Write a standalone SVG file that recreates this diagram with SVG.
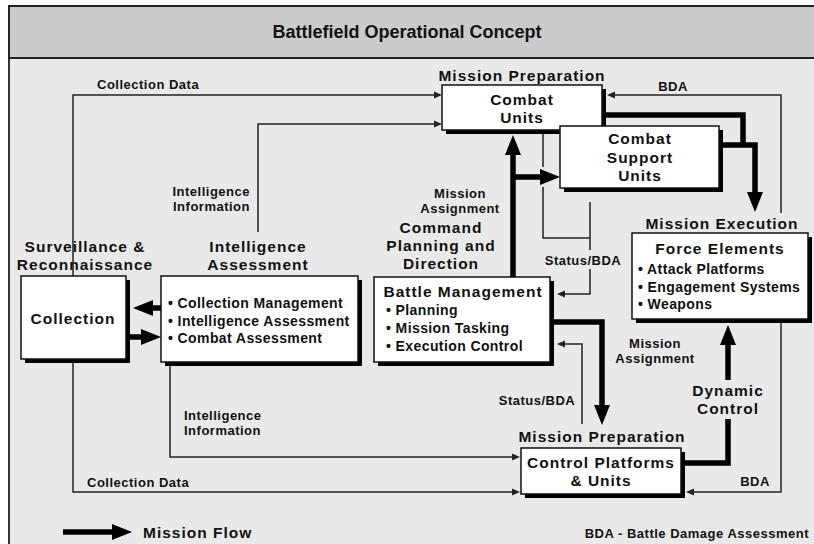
<svg xmlns="http://www.w3.org/2000/svg" width="814" height="544" viewBox="0 0 814 544">
<style>
text{font-family:"Liberation Sans",Arial,Helvetica,sans-serif;font-weight:bold;fill:#111}
.t{font-size:18px;text-anchor:middle}
.h{font-size:15.5px;letter-spacing:1px;text-anchor:middle}
.b{font-size:14px;letter-spacing:0.4px}
.s{font-size:13px;letter-spacing:0.5px}
.m{text-anchor:middle}
.e{text-anchor:end}
.box{fill:#fff;stroke:#111;stroke-width:1.5}
.sh{fill:#000}
.thin{fill:none;stroke:#222;stroke-width:1.5}
.thick{fill:none;stroke:#000;stroke-width:5.5;stroke-linejoin:miter}
</style>
<defs>
<marker id="big" markerUnits="userSpaceOnUse" markerWidth="20" markerHeight="16" refX="0" refY="8" orient="auto" overflow="visible"><path d="M0,0 L20,8 L0,16 z" fill="#000"/></marker>
<marker id="small" markerUnits="userSpaceOnUse" markerWidth="8" markerHeight="7" refX="0" refY="3.5" orient="auto" overflow="visible"><path d="M0,0 L8,3.5 L0,7 z" fill="#222"/></marker>
</defs>
<g id="frame">
<rect x="9" y="6" width="820" height="560" fill="#e9e9e9" stroke="#333" stroke-width="2"/>
<rect x="9" y="6" width="820" height="52" fill="#cbcbcb" stroke="#222" stroke-width="2"/>
<text class="t" x="407" y="38">Battlefield Operational Concept</text>
</g>
<g id="connectors">
<path class="thin" d="M73,276 V95 H434" marker-end="url(#small)"/>
<path class="thin" d="M258,232 V124 H434" marker-end="url(#small)"/>
<path class="thin" d="M781,213 V95 H615" marker-end="url(#small)"/>
<path class="thin" d="M543,134 V167 M543,187 V238 H590"/>
<path class="thin" d="M590,202 V250"/>
<path class="thin" d="M590,269 V294 H565" marker-end="url(#small)"/>
<path class="thin" d="M582,424 V344 H565" marker-end="url(#small)"/>
<path class="thin" d="M73,363 V492 H512" marker-end="url(#small)"/>
<path class="thin" d="M170,366 V457 H512" marker-end="url(#small)"/>
<path class="thin" d="M781,323 V492 H694" marker-end="url(#small)"/>
<path class="thick" d="M513,277 V155" marker-end="url(#big)"/>
<path class="thick" d="M513,177 H540" marker-end="url(#big)"/>
<path class="thick" d="M602,115 H743 V147"/>
<path class="thick" d="M719,145 H755 V192" marker-end="url(#big)"/>
<path class="thick" d="M161,308 H153" marker-end="url(#big)"/>
<path class="thick" d="M130,337 H141" marker-end="url(#big)"/>
<path class="thick" d="M550,322 H602 V405" marker-end="url(#big)"/>
<path class="thick" d="M681,463 H728 V419"/>
<path class="thick" d="M728,380 V345" marker-end="url(#big)"/>
<path class="thick" d="M63,532 H112" marker-end="url(#big)"/>
<text class="s" x="97" y="89">Collection Data</text>
<text class="s e" x="250" y="196">Intelligence</text>
<text class="s e" x="250" y="211">Information</text>
<text class="s m" x="673" y="91">BDA</text>
<text class="s m" x="460" y="198">Mission</text>
<text class="s m" x="460" y="213">Assignment</text>
<text class="s m" x="583" y="265">Status/BDA</text>
<text class="s m" x="655" y="348">Mission</text>
<text class="s m" x="655" y="363">Assignment</text>
<text class="s m" x="537" y="405">Status/BDA</text>
<text class="h" x="728" y="396">Dynamic</text>
<text class="h" x="728" y="414">Control</text>
<text class="s m" x="755" y="486">BDA</text>
<text class="s" x="184" y="420">Intelligence</text>
<text class="s" x="184" y="435">Information</text>
<text class="s" x="87" y="487">Collection Data</text>
</g>
<g id="collection">
<rect class="sh" x="25" y="280" width="105" height="83"/>
<rect class="box" x="21" y="276" width="105" height="83"/>
<text class="h" x="85" y="252">Surveillance &amp;</text>
<text class="h" x="85" y="270">Reconnaissance</text>
<text class="h" x="73" y="324">Collection</text>
</g>
<g id="intelligence-assessment">
<rect class="sh" x="165" y="280" width="197" height="86"/>
<rect class="box" x="161" y="276" width="197" height="86"/>
<text class="h" x="258" y="252">Intelligence</text>
<text class="h" x="258" y="270">Assessment</text>
<text class="b" x="168" y="308">• Collection Management</text>
<text class="b" x="168" y="326">• Intelligence Assessment</text>
<text class="b" x="168" y="343">• Combat Assessment</text>
</g>
<g id="battle-management">
<rect class="sh" x="378" y="281" width="176" height="85"/>
<rect class="box" x="374" y="277" width="176" height="85"/>
<text class="h" x="441" y="233">Command</text>
<text class="h" x="441" y="251">Planning and</text>
<text class="h" x="441" y="269">Direction</text>
<text class="h" x="463" y="297">Battle Management</text>
<text class="b" x="386" y="315">• Planning</text>
<text class="b" x="386" y="333">• Mission Tasking</text>
<text class="b" x="386" y="351">• Execution Control</text>
</g>
<g id="combat-units">
<rect class="sh" x="446" y="89" width="160" height="45"/>
<rect class="box" x="442" y="85" width="160" height="45"/>
<text class="h" x="522" y="81">Mission Preparation</text>
<text class="h" x="522" y="105">Combat</text>
<text class="h" x="522" y="123">Units</text>
</g>
<g id="combat-support-units">
<rect class="sh" x="564" y="130" width="159" height="62"/>
<rect class="box" x="560" y="126" width="159" height="62"/>
<text class="h" x="640" y="144">Combat</text>
<text class="h" x="640" y="163">Support</text>
<text class="h" x="640" y="181">Units</text>
</g>
<g id="force-elements">
<rect class="sh" x="636" y="237" width="176" height="86"/>
<rect class="box" x="632" y="233" width="176" height="86"/>
<text class="h" x="722" y="229">Mission Execution</text>
<text class="h" x="720" y="254">Force Elements</text>
<text class="b" x="638" y="274">• Attack Platforms</text>
<text class="b" x="638" y="292">• Engagement Systems</text>
<text class="b" x="638" y="309">• Weapons</text>
</g>
<g id="control-platforms">
<rect class="sh" x="525" y="452" width="160" height="46"/>
<rect class="box" x="521" y="448" width="160" height="46"/>
<text class="h" x="602" y="442">Mission Preparation</text>
<text class="h" x="601" y="468">Control Platforms</text>
<text class="h" x="601" y="486">&amp; Units</text>
</g>
<g id="legend">
<text class="h" x="143" y="538" style="text-anchor:start">Mission Flow</text>
<text class="s e" x="809" y="538">BDA - Battle Damage Assessment</text>
</g>
</svg>
